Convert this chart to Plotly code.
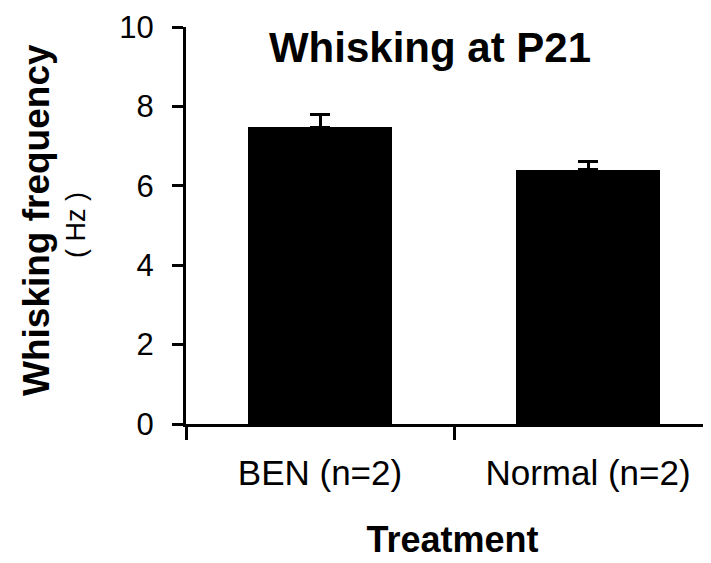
import plotly.graph_objects as go

categories = ["BEN (n=2)", "Normal (n=2)"]
means = [7.48, 6.40]
errors = [0.32, 0.21]
y_ticks = [0, 2, 4, 6, 8, 10]

FONT = "Liberation Sans, Arial, sans-serif"
xpos = list(range(len(categories)))

# page body has an 8px default margin; compensate so the figure lands where intended
OFF = 8
W, H = 711, 563
L, T, B = 186 - OFF, 27 - OFF, H - (424 - OFF)
PW, PH = W - L, H - T - B


def px(x):
    return (x - OFF - L) / PW


def py(y):
    return (H - B - (y - OFF)) / PH


fig = go.Figure()
fig.add_trace(go.Bar(
    x=xpos, y=means, width=0.537,
    marker=dict(color="black", line=dict(width=0)),
    error_y=dict(type="data", array=errors, arrayminus=[0] * len(errors),
                 symmetric=False, color="black", thickness=3, width=10),
    showlegend=False,
))

fig.update_layout(
    width=W, height=H,
    margin=dict(l=L, r=0, t=T, b=B),
    plot_bgcolor="white", paper_bgcolor="white",
    font=dict(family=FONT, color="black"),
    bargap=0,
    title=dict(text="<b>Whisking at P21</b>", x=(430 - OFF) / W, xanchor="center",
               y=1 - (47 - OFF) / H, yanchor="middle", yref="container",
               font=dict(size=42, family=FONT, color="black")),
    xaxis=dict(
        range=[-0.5, -0.5 + PW / 268], tickmode="array", tickvals=xpos, ticktext=categories,
        ticks="", tickfont=dict(size=35), ticklabelstandoff=16,
        showline=True, linecolor="black", linewidth=3, showgrid=False, zeroline=False,
        minor=dict(tickmode="array", tickvals=[-0.5, 0.5, 1.5], ticks="outside",
                   ticklen=13, tickwidth=3, tickcolor="black"),
        title=dict(text="<b>Treatment</b>", font=dict(size=36), standoff=36),
    ),
    yaxis=dict(
        range=[0, 10], tickmode="array", tickvals=y_ticks,
        ticks="outside", ticklen=11, tickwidth=3, tickcolor="black",
        tickfont=dict(size=31), ticklabelstandoff=12,
        showline=True, linecolor="black", linewidth=3, showgrid=False, zeroline=False,
    ),
    annotations=[
        dict(text="<b>Whisking frequency</b>", textangle=-90, x=px(36), y=py(220),
             xref="paper", yref="paper", xanchor="center", yanchor="middle",
             showarrow=False, font=dict(size=37)),
        dict(text="( Hz )", textangle=-90, x=px(76), y=py(225),
             xref="paper", yref="paper", xanchor="center", yanchor="middle",
             showarrow=False, font=dict(size=27)),
    ],
)

fig.write_html("out.html")
